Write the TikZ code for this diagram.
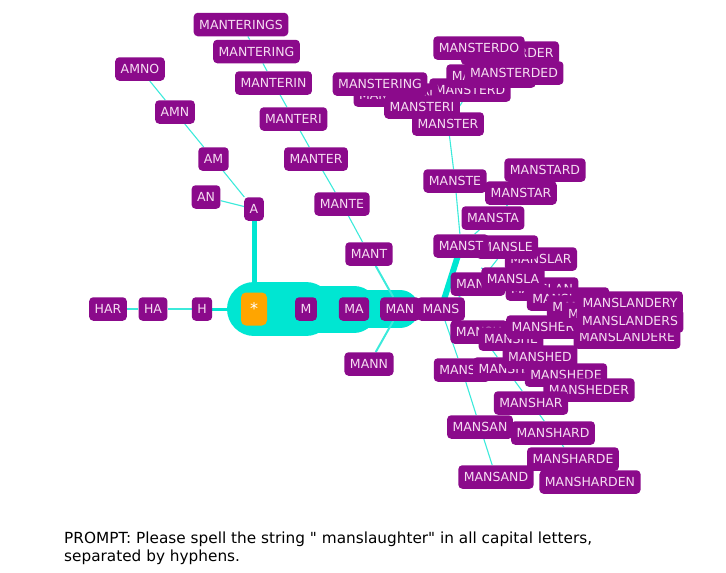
\documentclass[tikz,border=0pt]{standalone}
\usepackage{fontspec}
\setmainfont{DejaVu Sans}
\usepackage{tikz}
\usetikzlibrary{backgrounds}
\definecolor{tokfill}{HTML}{8B0A8B}
\definecolor{toktext}{HTML}{F6DDF2}
\definecolor{rootfill}{HTML}{FFA500}
\definecolor{trail}{HTML}{00E6D2}
\definecolor{twig}{HTML}{3CEADB}
\tikzset{
  tok/.style={fill=tokfill, text=toktext, rounded corners=4pt, font=\fontsize{12.5}{14}\selectfont,
              inner xsep=5.5pt, inner ysep=0pt, minimum height=23.5pt},
  roottok/.style={tok, fill=rootfill, text=white, minimum width=26pt, minimum height=33pt,
                  rounded corners=5pt, font=\fontsize{16}{18}\selectfont},
  twigline/.style={draw=twig, line width=1.1pt},
  trunk/.style={draw=trail, line cap=round},
}

\begin{document}
\begin{tikzpicture}[x=1pt, y=-1pt]
    \useasboundingbox (0,0) rectangle (726,573);
    % root and main chain
    \node[tok] (HAR) at (108,309) {HAR};
    \node[tok] (HA) at (153,309) {HA};
    \node[tok] (H) at (202,309) {H};
    \node[roottok] (star) at (254,309) {*};
    \node[tok] (M) at (306,309) {M};
    \node[tok] (MA) at (354,309) {MA};
    \node[tok] (MAN) at (400,309) {MAN};
    % A branch
    \node[tok] (A) at (254,209) {A};
    \node[tok] (AN) at (206,197) {AN};
    \node[tok] (AM) at (213.5,159) {AM};
    \node[tok] (AMN) at (175,112) {AMN};
    \node[tok] (AMNO) at (140,69) {AMNO};
    % MANT branch
    \node[tok] (MANT) at (369,254) {MANT};
    \node[tok] (MANN) at (369,364) {MANN};
    \node[tok] (MANTE) at (342,204) {MANTE};
    \node[tok] (MANTER) at (316,159) {MANTER};
    \node[tok] (MANTERI) at (293.5,119) {MANTERI};
    \node[tok] (MANTERIN) at (273.5,83) {MANTERIN};
    \node[tok] (MANTERING) at (256.5,51.5) {MANTERING};
    \node[tok] (MANTERINGS) at (241,24.5) {MANTERINGS};
    % MANSTER cluster
    \node[tok] (MANSTERD) at (470,90) {MANSTERD};
    \node[tok] (MANSTERDER) at (510,53) {MANSTERDER};
    \node[tok] (MANSTERDO) at (479,48) {MANSTERDO};
    \node[tok] (MANSTERDE) at (491,76) {MANSTERDE};
    \node[tok] (MANSTERDED) at (514,73) {MANSTERDED};
    \node[tok] (MANSTERIN) at (396,95) {MANSTERIN};
    \node[tok] (MANSTERING) at (380,84) {MANSTERING};
    \node[tok] (MANSTERI) at (422,107) {MANSTERI};
    \node[tok] (MANSTER) at (448,124) {MANSTER};
    \node[tok] (MANSTE) at (455,181) {MANSTE};
    \node[tok] (MANSTARD) at (545,170) {MANSTARD};
    \node[tok] (MANSTAR) at (521,193) {MANSTAR};
    \node[tok] (MANSTA) at (493,218) {MANSTA};
    % MANSL cluster
    \node[tok] (MANSL) at (478,284) {MANSL};
    \node[tok] (MANSLAN) at (542,289) {MANSLAN};
    \node[tok] (MANSLA) at (513,279) {MANSLA};
    \node[tok] (MANSLAR) at (541,259) {MANSLAR};
    \node[tok] (MANSLE) at (507,247) {MANSLE};
    \node[tok] (MANST) at (461,246) {MANST};
    % MANSH cluster
    \node[tok] (MANSH) at (479,332) {MANSH};
    \node[tok] (MANSA) at (462,370) {MANSA};
    \node[tok] (MANSAN) at (480,427) {MANSAN};
    \node[tok] (MANSAND) at (496,477) {MANSAND};
    \node[tok] (MANSHE) at (511,339) {MANSHE};
    \node[tok] (MANSHER) at (543,327) {MANSHER};
    \node[tok] (MANSHA) at (506,369) {MANSHA};
    \node[tok] (MANSHEDE) at (566,375) {MANSHEDE};
    \node[tok] (MANSHED) at (540,357) {MANSHED};
    \node[tok] (MANSHEDER) at (589,390) {MANSHEDER};
    \node[tok] (MANSHAR) at (531,403) {MANSHAR};
    \node[tok] (MANSHARD) at (553,433) {MANSHARD};
    \node[tok] (MANSHARDE) at (573,459) {MANSHARDE};
    \node[tok] (MANSHARDEN) at (590,482) {MANSHARDEN};
    \node[tok] (MANSLAND) at (568,299) {MANSLAND};
    \node[tok] (MANSLANDE) at (592,307) {MANSLANDE};
    \node[tok] (MANSLANDER) at (612,314) {MANSLANDER};
    \node[tok] (MANSLANDERE) at (627,337) {MANSLANDERE};
    \node[tok] (MANSLANDERS) at (630,321) {MANSLANDERS};
    \node[tok] (MANSLANDERY) at (630,303) {MANSLANDERY};
    \node[tok] (MANS) at (441,309) {MANS};

    \begin{scope}[on background layer]
      % highlighted path
      \draw[trunk, line width=54pt] (star.center) -- (M.center);
      \draw[trunk, line width=47pt] (M.center) -- (MA.center);
      \draw[trunk, line width=38pt] (MA.center) -- (MAN.center);
      \draw[trunk, line width=5pt] (MAN.center) -- (MANS.center);
      \draw[trunk, line width=6pt] (MANS.center) -- (MANST.center);
      \draw[trunk, line width=5pt] (star.center) -- (A.center);
      \draw[trunk, line width=3pt] (star.center) -- (H.center);
      \draw[twigline, line width=2pt] (MAN) -- (MANT);
      \draw[twigline, line width=2pt] (MAN) -- (MANN);
      % thin edges
      \draw[twigline] (H) -- (HA);
      \draw[twigline] (HA) -- (HAR);
      \draw[twigline] (A) -- (AN);
      \draw[twigline] (A) -- (AM);
      \draw[twigline] (AM) -- (AMN);
      \draw[twigline] (AMN) -- (AMNO);
      \draw[twigline] (MANT) -- (MANTE);
      \draw[twigline] (MANTE) -- (MANTER);
      \draw[twigline] (MANTER) -- (MANTERI);
      \draw[twigline] (MANTERI) -- (MANTERIN);
      \draw[twigline] (MANTERIN) -- (MANTERING);
      \draw[twigline] (MANTERING) -- (MANTERINGS);
      \draw[twigline] (MANST) -- (MANSTE);
      \draw[twigline] (MANSTE) -- (MANSTER);
      \draw[twigline] (MANSTER) -- (MANSTERI);
      \draw[twigline] (MANSTERI) -- (MANSTERIN);
      \draw[twigline] (MANSTERIN) -- (MANSTERING);
      \draw[twigline] (MANSTER) -- (MANSTERD);
      \draw[twigline] (MANSTERD) -- (MANSTERDE);
      \draw[twigline] (MANSTERD) -- (MANSTERDO);
      \draw[twigline] (MANSTERDE) -- (MANSTERDED);
      \draw[twigline] (MANSTERDE) -- (MANSTERDER);
      \draw[twigline] (MANST) -- (MANSTA);
      \draw[twigline] (MANSTA) -- (MANSTAR);
      \draw[twigline] (MANSTAR) -- (MANSTARD);
      \draw[twigline] (MANS) -- (MANSL);
      \draw[twigline] (MANSL) -- (MANSLE);
      \draw[twigline] (MANSL) -- (MANSLA);
      \draw[twigline] (MANSLA) -- (MANSLAR);
      \draw[twigline] (MANSLA) -- (MANSLAN);
      \draw[twigline] (MANSLAN) -- (MANSLAND);
      \draw[twigline] (MANSLAND) -- (MANSLANDE);
      \draw[twigline] (MANSLANDE) -- (MANSLANDER);
      \draw[twigline] (MANSLANDER) -- (MANSLANDERY);
      \draw[twigline] (MANSLANDER) -- (MANSLANDERS);
      \draw[twigline] (MANSLANDER) -- (MANSLANDERE);
      \draw[twigline] (MANS) -- (MANSH);
      \draw[twigline] (MANSH) -- (MANSHE);
      \draw[twigline] (MANSHE) -- (MANSHER);
      \draw[twigline] (MANSHE) -- (MANSHED);
      \draw[twigline] (MANSHED) -- (MANSHEDE);
      \draw[twigline] (MANSHEDE) -- (MANSHEDER);
      \draw[twigline] (MANSH) -- (MANSHA);
      \draw[twigline] (MANSHA) -- (MANSHAR);
      \draw[twigline] (MANSHAR) -- (MANSHARD);
      \draw[twigline] (MANSHARD) -- (MANSHARDE);
      \draw[twigline] (MANSHARDE) -- (MANSHARDEN);
      \draw[twigline] (MANS) -- (MANSA);
      \draw[twigline] (MANSA) -- (MANSAN);
      \draw[twigline] (MANSAN) -- (MANSAND);
    \end{scope}

    \node[anchor=base west, align=left, inner sep=0pt, font=\fontsize{15.3}{17.5}\selectfont] (prompt) at (64,561)
      {PROMPT: Please spell the string \textquotedbl{} manslaughter\textquotedbl{} in all capital letters,\\separated by hyphens.};
  \end{tikzpicture}
\end{document}
